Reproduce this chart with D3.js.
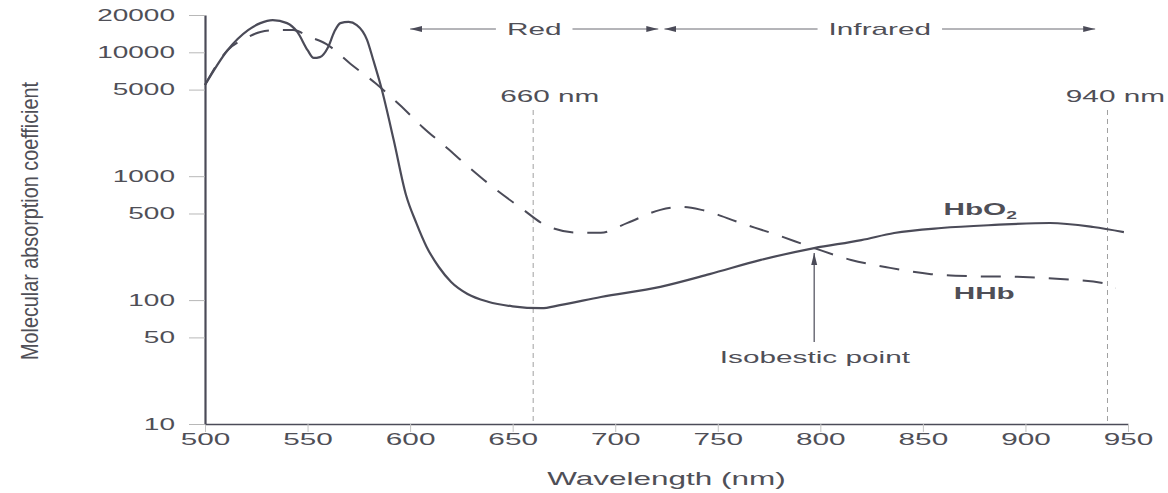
<!DOCTYPE html>
<html>
<head>
<meta charset="utf-8">
<script src="https://cdn.jsdelivr.net/npm/d3@7"></script>
<style>
body { margin: 0; background: #fff; }
text { font-family: "Liberation Sans", Arial, sans-serif; fill: #4f4f57; }
</style>
</head>
<body>
<svg id="chart" width="1168" height="493"></svg>
<script>
// wavelength (nm) and molecular absorption coefficient
let hbo2Wave = [500, 511, 521, 527, 533, 540, 545, 550, 553, 556, 560, 563, 566, 570, 574, 579, 582, 586,
    592, 598, 603, 608, 614, 620, 628, 638, 650, 664, 673, 693, 722, 746, 771, 797, 820, 836, 859, 885, 912, 933, 948];
let hbo2Value = [5450, 10400, 15100, 17200, 18200, 17200, 14600, 10400, 9000, 9150, 11000, 14600, 17200, 17600,
    16600, 12600, 8700, 5150, 1960, 705, 420, 270, 185, 140, 112, 97, 89, 86, 91, 106, 128, 162, 211, 263, 305, 348,
    382, 404, 419, 389, 354];
let hhbWave = [500, 511, 520, 527, 535, 543, 551, 559, 571, 583, 595, 606, 618, 629, 641, 654, 667, 682, 693,
    706, 722, 732, 742, 761, 779, 797, 815, 834, 854, 873, 896, 917, 938, 944];
let hhbValue = [5450, 10400, 13000, 14600, 15100, 15100, 13300, 11700, 8050, 5650, 3750, 2500, 1690, 1170, 800,
    555, 395, 350, 350, 420, 535, 565, 535, 420, 335, 263, 211, 182, 162, 156, 154, 148, 137, 125];

let xTicks = [500, 550, 600, 650, 700, 750, 800, 850, 900, 950];
let yTicks = [10, 50, 100, 500, 1000, 5000, 10000, 20000];
let markerWaves = [660, 940];
let bandNames = ["Red", "Infrared"];
let bandFrom = [600, 724];
let bandTo = [721, 934];
let isobesticWave = 797;
let isobesticValue = 263;

const SX = 1.75;   // the scan is stretched sideways, so is the lettering
let width = 1168;
let ink = "#4b4b58";

let svg = d3.select("#chart");

let defs = svg.append("defs");
defs.append("marker")
    .attr("id", "arrow")
    .attr("viewBox", "0 -4 12 8")
    .attr("refX", 12)
    .attr("refY", 0)
    .attr("markerWidth", 12)
    .attr("markerHeight", 8)
    .attr("markerUnits", "userSpaceOnUse")
    .attr("orient", "auto-start-reverse")
    .append("path")
    .attr("d", "M0,-3L12,0L0,3Z")
    .attr("fill", ink);

let x = d3.scaleLinear().domain([500, 950]).range([205, 1128]);
let y = d3.scaleLog().domain([10, 20000]).range([424, 15]);

function wideText(g, px, py, str, size) {
    return g.append("text")
        .attr("transform", "translate(" + px + "," + py + ") scale(" + SX + ",1)")
        .attr("font-size", size)
        .text(str);
}

// Draw marker lines (660 / 940 nm)
let markerTop = 110;
markerWaves.forEach(function (w) {
    svg.append("line")
        .attr("x1", x(w)).attr("x2", x(w))
        .attr("y1", markerTop).attr("y2", y(10))
        .attr("stroke", "#a0a0a0")
        .attr("stroke-width", 1)
        .attr("stroke-dasharray", "5,4");
    let t = wideText(svg, 0, 0, w + " nm", 17);
    let tw = t.node().getBBox().width * SX;
    let left = Math.min(x(w) - 33, width - tw - 3);
    t.attr("transform", "translate(" + left + "," + (markerTop - 8) + ") scale(" + SX + ",1)");
});

// Draw x axis
let xAxis = svg.append("g")
    .attr("transform", "translate(0," + y(10) + ")")
    .call(d3.axisBottom(x).tickValues(xTicks).tickSize(8).tickSizeOuter(0));
xAxis.attr("font-family", null).attr("font-size", null);
xAxis.select(".domain").attr("stroke", ink).attr("stroke-width", 1.6);
xAxis.selectAll(".tick line").attr("stroke", "#c4c4c4");
xAxis.selectAll(".tick text")
    .attr("y", 21)
    .attr("dy", null)
    .attr("font-size", 17)
    .attr("fill", "#55555c")
    .attr("transform", "scale(" + SX + ",1)");

// Draw y axis
let yAxis = svg.append("g")
    .attr("transform", "translate(" + x(500) + ",0)")
    .call(d3.axisLeft(y).tickValues(yTicks).tickFormat(d3.format("d")).tickSize(16).tickSizeOuter(0));
yAxis.attr("font-family", null).attr("font-size", null);
yAxis.select(".domain").attr("stroke", ink).attr("stroke-width", 2.2);
yAxis.selectAll(".tick line").attr("stroke", "#b8b8b8");
yAxis.selectAll(".tick text")
    .attr("x", -30 / SX)
    .attr("font-size", 16)
    .attr("fill", "#55555c")
    .attr("transform", "scale(" + SX + ",1)");

// axis titles
wideText(svg, (x(500) + x(950)) / 2, 485, "Wavelength (nm)", 18)
    .attr("text-anchor", "middle");
svg.append("text")
    .attr("transform", "translate(38,221) rotate(-90)")
    .attr("text-anchor", "middle")
    .attr("font-family", "'Liberation Sans Narrow', 'Liberation Sans', Arial, sans-serif")
    .attr("font-size", 24)
    .attr("textLength", 278)
    .attr("lengthAdjust", "spacingAndGlyphs")
    .attr("fill", "#66666c")
    .text("Molecular absorption coefficient");

// Draw the spectra
let line = d3.line()
    .x(function (d) { return x(d[0]); })
    .y(function (d) { return y(d[1]); })
    .curve(d3.curveMonotoneX);

svg.append("path")
    .datum(d3.zip(hhbWave, hhbValue))
    .attr("d", line)
    .attr("fill", "none")
    .attr("stroke", ink)
    .attr("stroke-width", 2)
    .attr("stroke-dasharray", "20,14");

svg.append("path")
    .datum(d3.zip(hbo2Wave, hbo2Value))
    .attr("d", line)
    .attr("fill", "none")
    .attr("stroke", ink)
    .attr("stroke-width", 2.2);

// series labels
let hbo2Label = wideText(svg, x(860), y(490), "HbO", 17).attr("font-weight", "bold");
hbo2Label.append("tspan").attr("dy", 4).attr("font-size", 11).text("2");
wideText(svg, x(865), y(102), "HHb", 17).attr("font-weight", "bold");

// isobestic point
svg.append("line")
    .attr("x1", x(isobesticWave)).attr("x2", x(isobesticWave))
    .attr("y1", y(46)).attr("y2", y(isobesticValue) + 5)
    .attr("stroke", ink)
    .attr("stroke-width", 1.2)
    .attr("marker-end", "url(#arrow)");
wideText(svg, x(751), y(31), "Isobestic point", 17);

// Red / Infrared bands
let bandY = 29;
bandNames.forEach(function (name, i) {
    let cx = (x(bandFrom[i]) + x(bandTo[i])) / 2;
    let t = wideText(svg, cx, bandY + 6, name, 17).attr("text-anchor", "middle");
    let hw = t.node().getBBox().width * SX / 2 + 11;
    svg.append("line")
        .attr("x1", x(bandFrom[i])).attr("x2", cx - hw)
        .attr("y1", bandY).attr("y2", bandY)
        .attr("stroke", "#6a6a72")
        .attr("stroke-width", 1)
        .attr("marker-start", "url(#arrow)");
    svg.append("line")
        .attr("x1", cx + hw).attr("x2", x(bandTo[i]))
        .attr("y1", bandY).attr("y2", bandY)
        .attr("stroke", "#6a6a72")
        .attr("stroke-width", 1)
        .attr("marker-end", "url(#arrow)");
});
</script>
</body>
</html>
